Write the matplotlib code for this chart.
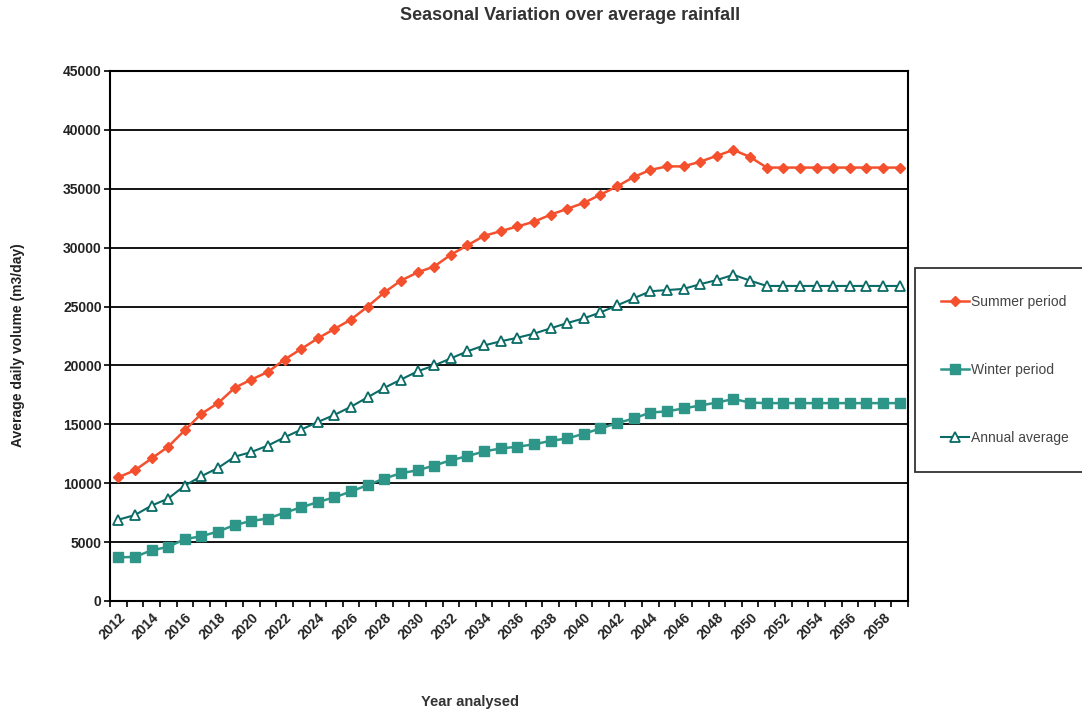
import matplotlib
matplotlib.use("Agg")
import matplotlib.pyplot as plt
from matplotlib.ticker import FixedLocator, NullFormatter

plt.rcParams['font.family'] = ['Liberation Sans', 'DejaVu Sans']

years = list(range(2012, 2060))

summer = [10500, 11100, 12100, 13100, 14500, 15900, 16800, 18100, 18800, 19450,
          20500, 21400, 22300, 23100, 23900, 25000, 26200, 27200, 27900, 28400,
          29400, 30200, 31000, 31400, 31800, 32200, 32800, 33300, 33800, 34500,
          35200, 36000, 36600, 36900, 36900, 37300, 37800, 38300, 37700, 36800,
          36800, 36800, 36800, 36800, 36800, 36800, 36800, 36800]

winter = [3700, 3750, 4300, 4600, 5250, 5500, 5900, 6450, 6800, 7000,
          7500, 7950, 8400, 8800, 9300, 9850, 10400, 10850, 11100, 11500,
          11950, 12300, 12700, 12950, 13100, 13300, 13600, 13800, 14200, 14650,
          15100, 15500, 16000, 16100, 16350, 16600, 16850, 17150, 16850, 16800,
          16800, 16800, 16800, 16800, 16800, 16800, 16800, 16800]

annual = [6900, 7300, 8100, 8700, 9800, 10600, 11300, 12250, 12650, 13200,
          13900, 14550, 15200, 15800, 16500, 17300, 18100, 18800, 19500, 20000,
          20600, 21200, 21700, 22050, 22350, 22700, 23150, 23600, 24000, 24500,
          25100, 25700, 26300, 26400, 26500, 26900, 27250, 27700, 27200, 26750,
          26750, 26750, 26750, 26750, 26750, 26750, 26750, 26750]

y_ticks = list(range(0, 45001, 5000))

summer_color = '#F4502E'
winter_color = '#2E9688'
annual_color = '#0A6B66'

fig = plt.figure(figsize=(10.82, 7.11), dpi=100)
ax = fig.add_axes([110 / 1082, 1 - 601 / 711, 798 / 1082, 530 / 711])

x = list(range(len(years)))

ax.plot(x, summer, color=summer_color, lw=1.8, marker='D', ms=5.5,
        mfc=summer_color, mec=summer_color, label='Summer period', zorder=4)
ax.plot(x, winter, color=winter_color, lw=1.8, marker='s', ms=7,
        mfc=winter_color, mec=winter_color, label='Winter period', zorder=4)
ax.plot(x, annual, color=annual_color, lw=1.5, marker='^', ms=6.5,
        mfc='white', mec=annual_color, mew=1.3, label='Annual average', zorder=4)

ax.set_xlim(-0.5, len(years) - 0.5)
ax.set_ylim(0, 45000)
ax.set_yticks(y_ticks)
ax.set_yticklabels([str(v) for v in y_ticks], fontsize=10, fontweight='bold',
                   color='#222222')
ax.yaxis.grid(True, color='black', lw=1.3)
ax.set_axisbelow(True)

# category labels every two years, tick marks between categories
label_pos = [i for i in x if years[i] % 2 == 0]
ax.xaxis.set_major_locator(FixedLocator(label_pos))
ax.set_xticklabels([str(years[i]) for i in label_pos], rotation=45, ha='right',
                   rotation_mode='anchor', fontsize=10, fontweight='bold',
                   color='#222222')
ax.tick_params(axis='x', which='major', length=0, pad=7)
ax.xaxis.set_minor_locator(FixedLocator([i - 0.5 for i in range(len(years) + 1)]))
ax.xaxis.set_minor_formatter(NullFormatter())
ax.tick_params(axis='x', which='minor', length=4, width=1.2, color='black',
               direction='out')
ax.tick_params(axis='y', length=4, width=1.2, direction='out', pad=2)

for s in ax.spines.values():
    s.set_color('black')
    s.set_linewidth(1.5)

fig.text(570 / 1082, 1 - 15 / 711, 'Seasonal Variation over average rainfall',
         ha='center', va='center', fontsize=13, fontweight='bold', color='#333333')
fig.text(18 / 1082, 1 - 345 / 711, 'Average daily volume (m3/day)', rotation=90,
         ha='center', va='center', fontsize=10, fontweight='bold', color='#222222')
fig.text(470 / 1082, 1 - 702 / 711, 'Year analysed', ha='center', va='center',
         fontsize=10.5, fontweight='bold', color='#333333')

leg = fig.legend(loc='center left', bbox_to_anchor=(915 / 1082, 1 - 370 / 711),
                 frameon=True, fancybox=False, edgecolor='black', fontsize=10,
                 labelspacing=3.9, handlelength=2.0, handletextpad=0.1,
                 borderpad=1.9, borderaxespad=0)
leg.get_frame().set_linewidth(1.3)
for t in leg.get_texts():
    t.set_color('#444444')

fig.savefig('out.png', dpi=100, facecolor='white')
